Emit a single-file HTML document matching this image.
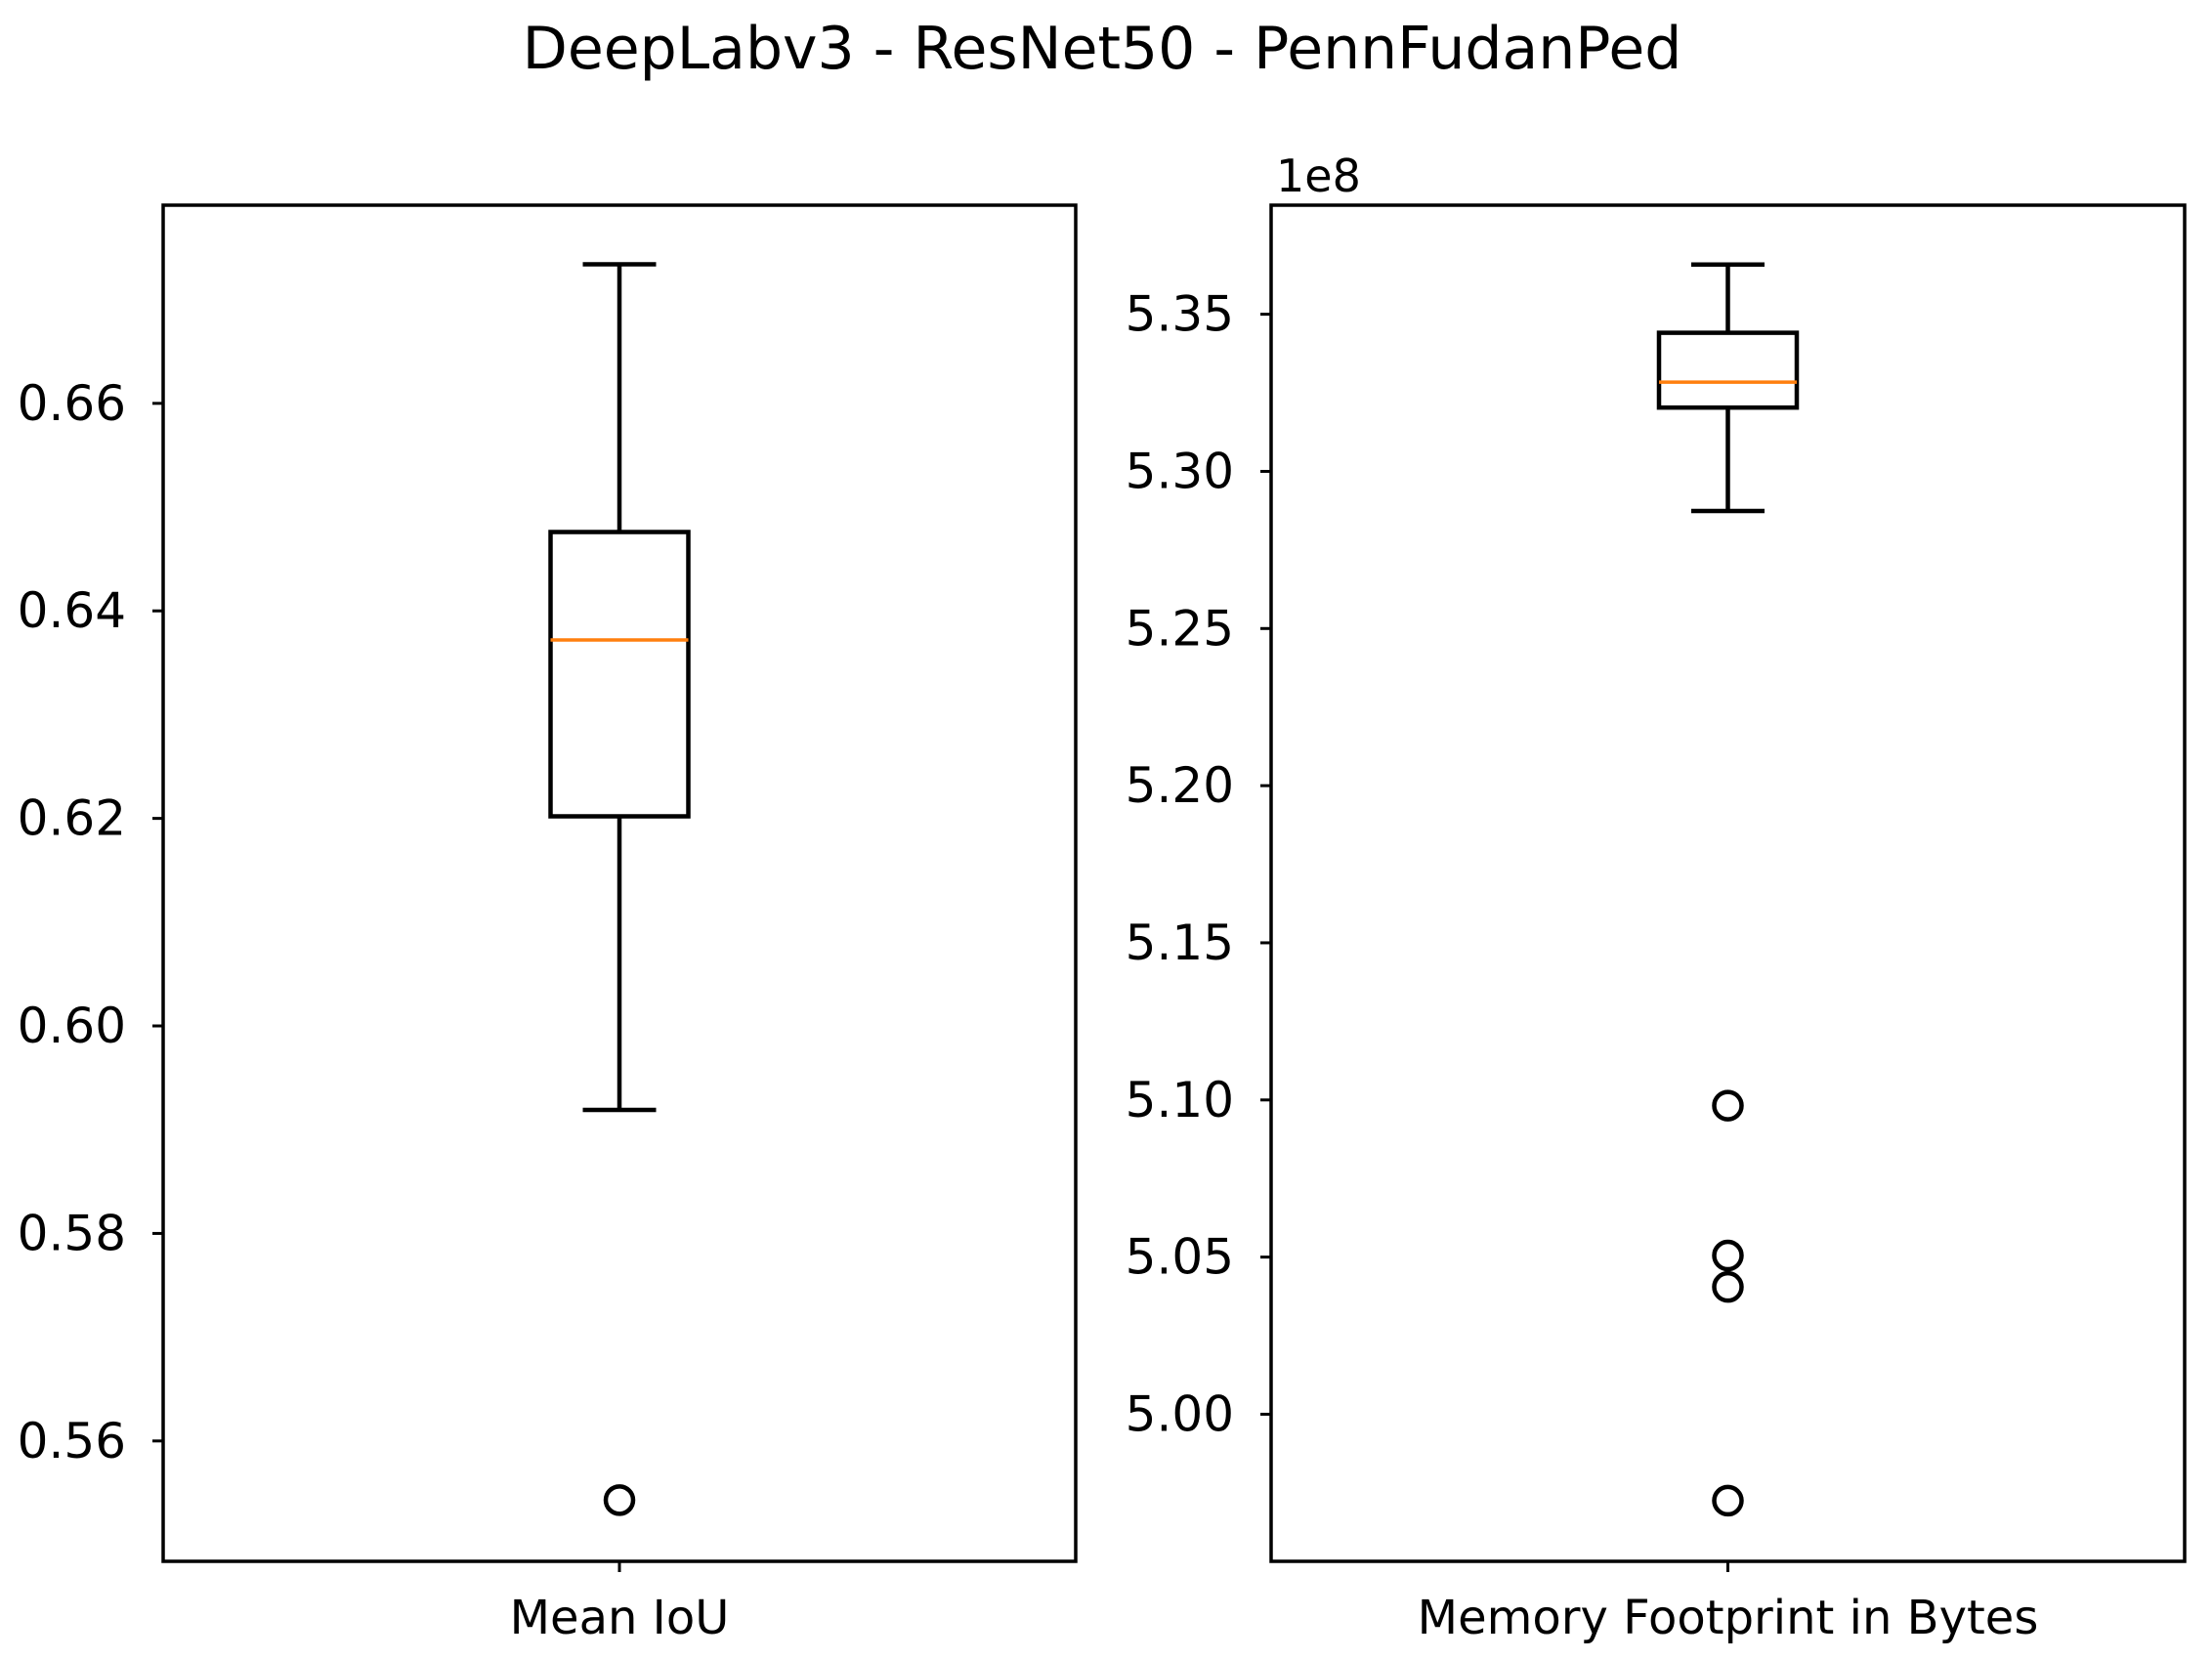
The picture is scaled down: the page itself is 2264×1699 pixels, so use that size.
<!DOCTYPE html>
<html><head><meta charset="utf-8"><style>html,body{margin:0;padding:0;background:#fff}svg{display:block}text{font-family:"DejaVu Sans","Liberation Sans",sans-serif;fill:#000}</style></head>
<body>
<svg id="svg" width="2264" height="1699" viewBox="0 0 2264 1699" xmlns="http://www.w3.org/2000/svg">
<text x="1128" y="70" font-size="60" text-anchor="middle">DeepLabv3 - ResNet50 - PennFudanPed</text>
<g id="g"></g>
</svg>
<script>
const iouStats = [0.5919, 0.6202, 0.6372, 0.6476, 0.6734];
const iouOutliers = [0.5543];
const iouTicks = [0.56, 0.58, 0.60, 0.62, 0.64, 0.66];
const iouTickLabels = ["0.56", "0.58", "0.60", "0.62", "0.64", "0.66"];
const memStats = [5.2874, 5.3203, 5.3284, 5.3441, 5.3658];
const memOutliers = [5.0982, 5.0505, 5.0405, 4.9725];
const memTicks = [5.00, 5.05, 5.10, 5.15, 5.20, 5.25, 5.30, 5.35];
const memTickLabels = ["5.00", "5.05", "5.10", "5.15", "5.20", "5.25", "5.30", "5.35"];
const categories = ["Mean IoU", "Memory Footprint in Bytes"];

const NS = "http://www.w3.org/2000/svg";
const g = document.getElementById('g');
function mk(tag, attrs, parent) {
  const e = document.createElementNS(NS, tag);
  for (const k in attrs) e.setAttribute(k, attrs[k]);
  (parent || g).appendChild(e);
  return e;
}
function panel(x0, x1, yMin, yMax, stats, outliers, ticks, labels, cat, idx, offset) {
  const top = 210, bot = 1598;
  const y = v => bot - (v - yMin) / (yMax - yMin) * (bot - top);
  const cx = (x0 + x1) / 2;
  const grp = mk('g', {});
  
  
  ticks.forEach((t, i) => {
    const l = mk('line', {x1: x0 - 11, x2: x0, y1: y(t), y2: y(t), stroke: '#000', 'stroke-width': 3}, grp);
    
    
    const tx = mk('text', {x: x0 - 38, y: y(t) + 17, 'font-size': 50, 'text-anchor': 'end'}, grp);
    
    
    tx.textContent = labels[i];
  });
  const xt = mk('line', {x1: cx, x2: cx, y1: bot, y2: bot + 11, stroke: '#000', 'stroke-width': 3}, grp);
  
  
  const xl = mk('text', {x: cx, y: bot + 74, 'font-size': 48, 'text-anchor': 'middle'}, grp);
  
  
  xl.textContent = cat;
  const bw = 141, cw = 75;
  const wl = mk('line', {x1: cx, x2: cx, y1: y(stats[0]), y2: y(stats[1]), stroke: '#000', 'stroke-width': 4.5}, grp);
  
  
  const wu = mk('line', {x1: cx, x2: cx, y1: y(stats[3]), y2: y(stats[4]), stroke: '#000', 'stroke-width': 4.5}, grp);
  
  
  [0, 4].forEach(k => {
    const c = mk('line', {x1: cx - cw / 2, x2: cx + cw / 2, y1: y(stats[k]), y2: y(stats[k]), stroke: '#000', 'stroke-width': 4.5}, grp);
    
    
  });
  const b = mk('rect', {x: cx - bw / 2, y: y(stats[3]), width: bw, height: y(stats[1]) - y(stats[3]), fill: 'none', stroke: '#000', 'stroke-width': 4.5}, grp);
  
  
  const m = mk('line', {x1: cx - bw / 2, x2: cx + bw / 2, y1: y(stats[2]), y2: y(stats[2]), stroke: '#ff7f0e', 'stroke-width': 3.5}, grp);
  
  
  outliers.forEach(v => {
    const o = mk('circle', {cx: cx, cy: y(v), r: 14, fill: 'none', stroke: '#000', 'stroke-width': 4.5}, grp);
    
    
  });
  const f = mk('rect', {x: x0, y: top, width: x1 - x0, height: bot - top, fill: 'none', stroke: '#000', 'stroke-width': 3.5}, grp);
  
  
  if (offset) {
    const ot = mk('text', {x: x0 + 5, y: top - 14, 'font-size': 46}, grp);
    
    
    ot.textContent = offset;
  }
}
panel(167, 1101, 0.5484, 0.6791, iouStats, iouOutliers, iouTicks, iouTickLabels, categories[0], 'iou', null);
panel(1301, 2236, 4.9532, 5.3847, memStats, memOutliers, memTicks, memTickLabels, categories[1], 'memory', '1e8');
</script>
</body></html>
